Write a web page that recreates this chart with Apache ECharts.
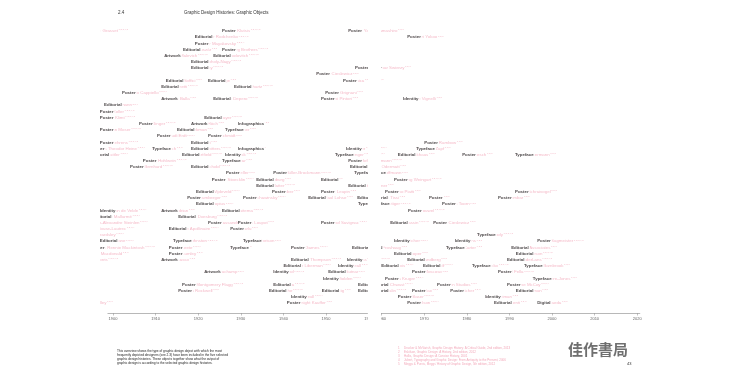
<!DOCTYPE html>
<html><head><meta charset="utf-8">
<script src="https://cdn.jsdelivr.net/npm/echarts@6/dist/echarts.min.js"></script>
<style>
html,body{margin:0;padding:0;background:#fff;width:750px;height:375px;overflow:hidden}
.clip{position:absolute;top:0;height:375px;overflow:hidden}
.chart{position:absolute;top:0;width:750px;height:375px}
</style></head><body>
<div class="clip" style="left:100px;width:268px"><div id="cL" class="chart" style="left:-100px"></div></div>
<div class="clip" style="left:381px;width:369px"><div id="cR" class="chart" style="left:-368px"></div></div>
<script>
// ---- data (one entry per graphic object) ----
const types = [
'Poster','Poster','Poster',
'Editorial','Poster',
'Poster',
'Editorial','Poster',
'Artwork','Editorial',
'Editorial',
'Editorial','Poster',
'Poster',
'Editorial','Editorial','Poster',
'Editorial','Editorial',
'Poster','Poster',
'Artwork','Editorial','Poster','Identity',
'Editorial',
'Poster',
'Poster','Editorial',
'Poster','Artwork','Infographics',
'Poster','Editorial','Typeface',
'Poster','Poster',
'Poster','Editorial','Poster',
'Poster','Typeface','Editorial','Infographics','Identity','Typeface',
'Editorial','Editorial','Identity','Typeface','Editorial','Poster','Typeface',
'Poster','Typeface','Poster',
'Poster','Editorial','Editorial',
'Poster','Poster','Typeface',
'Poster','Editorial','Editorial','Poster',
'Editorial','Editorial',
'Editorial','Poster','Poster','Poster','Poster',
'Poster','Poster','Editorial','Editorial','Poster','Poster',
'Editorial','Typeface','Poster',
'Identity','Artwork','Editorial','Poster',
'Editorial','Editorial',
'Poster','Poster','Poster','Poster','Editorial','Poster',
'Poster','Editorial','Poster',
'Poster','Typeface',
'Editorial','Typeface','Typeface','Identity','Identity','Poster',
'Poster','Poster','Typeface','Poster','Editorial','Typeface','Editorial',
'Poster','Poster','Editorial','Editorial',
'Editorial','Artwork','Editorial','Identity','Editorial','Editorial',
'Editorial','Identity','Editorial','Editorial','Typeface','Typeface',
'Artwork','Identity','Editorial','Poster','Poster',
'Identity','Poster','Typeface',
'Poster','Editorial','Editorial','Poster','Poster',
'Poster','Editorial','Editorial','Editorial','Poster','Poster','Editorial',
'Identity','Poster','Identity',
'Poster','Poster','Poster','Editorial','Digital'
];
const names = [
'Eugène Grasset','Gustav Klutsis','Ryuichi Yamashiro',
'Alexander Rodchenko','Tadanori Yokoo',
'Vladimir Mayakovsky',
'Vilmos Huszár','Stenberg Brothers',
'Kazimir Malevich','Alexey Brodovitch',
'László Moholy-Nagy',
'El Lissitzky','Waldemar Swierzy',
'Roman Cieslewicz',
'Ardengo Soffici','Karel Teige','Jan Lenica',
'F. T. Marinetti','Max Burchartz',
'Leonetto Cappiello','Franco Grignani',
'Giacomo Balla','Fortunato Depero','Giovanni Pintori','Massimo Vignelli',
'Otto Eckmann',
'Alfred Roller',
'Gustav Klimt','Herbert Bayer',
'Julius Klinger','Hannah Höch','Otto Neurath',
'Koloman Moser','H. N. Werkman','Paul Renner',
'Hans Rudi Erdt','Joost Schmidt',
'Peter Behrens','Piet Zwart','Gunter Rambow',
'Thomas Theodor Heine','Rudolf Koch','Kurt Schwitters','Harry Beck','Otl Aicher','Hermann Zapf',
'Joseph Sattler','John Heartfield','Frank Pick','Max Miedinger','Willy Fleckhaus','Uwe Loesch','Erik Spiekermann',
'Ludwig Hohlwein','Jakob Erbar','Armin Hofmann',
'Lucian Bernhard','Jan Tschichold','Siegfried Odermatt',
'Ernst Keller','Josef Müller-Brockmann','Eduard Hoffmann',
'Niklaus Stoecklin','Hans Neuburg','Max Bill','Wolfgang Weingart',
'Herbert Matter','Karl Gerstner',
'Hendrik Wijdeveld','Max Huber','Herbert Leupin','Celestino Piatti','Ralph Schraivogel',
'Otto Baumberger','Xanti Schawinsky','Richard Paul Lohse','Rosmarie Tissi','Grapus','Gert Dumbar',
'Walter Gropius','Adrian Frutiger','Jan van Toorn',
'Henry van de Velde','Piet Mondrian','Paul Schuitema','Wim Crouwel',
'Stéphane Mallarmé','Theo van Doesburg',
'Théophile-Alexandre Steinlen','A. M. Cassandre','Charles Loupot','Raymond Savignac','Robert Massin','Roman Cieslewicz',
'Henri de Toulouse-Lautrec','Guillaume Apollinaire','Jean Carlu',
'Aubrey Beardsley','Neville Brody',
'Walter Crane','Edward Johnston','Stanley Morison','Alan Fletcher','Wolff Olins','Stefan Sagmeister',
'Charles Rennie Mackintosh','Alfred Leete','Eric Gill','Abram Games','Anthony Froshaug','Matthew Carter','Why Not Associates',
'Margaret Macdonald','Savile Lumley','Muriel Cooper','David Carson',
'William Morris','Pablo Picasso','Bradbury Thompson','Saul Bass','Willem Sandberg','Rudy VanderLans',
'Alexander Liberman','Lester Beall','George Lois','Henry Wolf','Zuzana Licko','Jonathan Barnbrook',
'Marcel Duchamp','Paul Rand','Ladislav Sutnar','Victor Moscoso','Edward Fella',
'William Golden','Barbara Kruger','Tobias Frere-Jones',
'James Montgomery Flagg','M. F. Agha','Seymour Chwast','Push Pin Studios','Katherine McCoy',
'Norman Rockwell','Erik Nitsche','Alvin Lustig','Herb Lubalin','Peter Max','Paula Scher','Tibor Kalman',
'Lester Beall','Milton Glaser','April Greiman',
'Will Bradley','E. McKnight Kauffer','Wes Wilson','Rick Valicenti','John Maeda'
];
const refs = [
'1,2,3,4,5','1,2,3,4,5','1,2,3',
'1,2,3,4,5','1,2,3',
'1,2,3,4',
'1,2,3','1,2,3,4,5',
'1,2,3,4,5','1,2,3,4,5',
'1,2,3,4,5',
'1,2,3,4,5','1,2,3',
'1,2,3',
'1,2,3','1,2,3','1,2,3',
'1,2,3,4,5','1,2,3,4,5',
'1,2,3,4','1,2,3',
'1,2,3','1,2,3,4,5','1,2,3','1,2,3',
'2,3,4',
'1,2,3,4,5',
'1,2,3,4,5','1,2,3,4,5',
'1,2,3,4,5','1,2,3','1,2,3',
'1,2,3,4,5','1,2,3','1,2,3',
'1,2,3,4','1,2,3',
'1,2,3,4,5','1,2,3','1,2,3',
'1,2,3,4','1,2,3','1,2,3,4,5','1,2,3','1,2,3,4','1,2,3',
'1,2,3,4','1,2,3,4,5','1,2,3,4,5','1,2,3,4','1,2,3','1,2,3','1,2,3',
'1,2,3,4,5','1,2,3','1,2,3,4,5',
'1,2,3,4,5','1,2,3,4,5','1,2,3',
'1,2,3','1,2,3,4,5','1,2,3',
'1,2,3,4','1,2,3','1,2,3','1,2,3,4,5',
'1,2,3,4,5','1,2,3',
'1,2,3,4','1,2,3','1,2,3','1,2,3','1,2,3',
'1,2,3','1,2,3,4','1,2,3','1,2,3','1,2,3','1,2,3',
'1,2,3,4','1,2,3,4,5','1,2,3',
'1,2,3,4','1,2,3','1,2,3,4,5','1,2,3,4,5',
'1,2,3,4','1,2,3,4,5',
'1,2,3,4','1,2','1,2,3','1,2,3,4','1,2,3,4,5','1,2,3',
'1,2,3,4','1,2,3,4','1,2,3',
'1,2,3,4','1,2,3,4,5',
'1,2,3,4','1,2,3,4,5','1,2,3','1,2,3,4','1,2,3','1,2,3,4,5',
'1,2,3,4,5','1,2,3,4','1,2,3','1,2,3,4','1,2,3','1,2,3','1,2,3',
'1,2,3','1,2,3','1,2,3','1,2,3,4,5',
'1,2,3,4,5','1,2,3','1,2,3,4,5','1,2,3,4,5','1,2,3','1,2,3,4,5',
'1,2,3,4','1,2,3','1,2,3,4','1,2,3,4','1,2,3,4,5','1,2,3',
'1,2,3','1,2,3,4,5','1,2,3','1,2,3','1,2,3,4,5',
'1,2,3,4','1,2,3,4','1,2,3',
'1,2,3,4,5','1,2,3,4,5','1,2,3,4','1,2,3','1,2,3,4',
'1,2,3','1,2,3,4,5','1,2,3','1,2,3,4,5','1,2,3','1,2,3','1,2,3',
'1,2,3,4','1,2,3,4,5','1,2,3',
'1,2,3','1,2,3','1,2,3,4','1,2,3','1,2,3'
];
const years = [
1893.7,1925.6,1955.2,
1919.2,1966.0,
1919.2,
1916.4,1925.6,
1912.0,1923.5,
1918.3,
1918.3,1956.8,
1947.7,
1912.4,1922.3,1954.0,
1911.3,1928.4,
1902.1,1949.8,
1911.3,1923.5,1948.8,1965.0,
1897.9,
1896.9,
1896.9,1921.4,
1906.1,1918.3,1929.3,
1896.9,1915.0,1926.3,
1910.3,1922.3,
1896.9,1918.3,1970.0,
1894.8,1909.2,1918.3,1929.3,1954.7,1968.1,
1895.0,1916.2,1926.3,1952.1,1963.8,1978.9,1991.3,
1907.0,1925.6,1955.2,
1904.0,1918.3,1955.6,
1926.5,1937.6,1956.6,
1923.2,1933.6,1948.8,1962.9,
1933.6,1955.2,
1919.5,1937.3,1948.8,1960.8,1991.3,
1917.4,1930.5,1945.8,1957.3,1971.1,1987.3,
1919.5,1957.5,1974.2,
1896.9,1911.3,1925.6,1966.2,
1895.5,1915.3,
1892.7,1922.3,1929.3,1948.8,1962.0,1972.1,
1891.0,1913.1,1927.5,
1892.5,1982.4,
1896.9,1914.1,1930.5,1962.9,1977.2,1996.5,
1894.8,1913.1,1927.5,1941.8,1956.1,1975.1,1990.4,
1892.7,1913.1,1962.9,1991.5,
1892.3,1911.3,1941.8,1954.9,1966.0,1989.4,
1940.0,1952.8,1959.9,1969.7,1981.2,1993.4,
1921.4,1937.6,1950.5,1967.1,1987.3,
1949.3,1960.8,1995.5,
1916.2,1937.6,1957.5,1973.0,1989.4,
1915.3,1936.6,1949.0,1957.5,1967.1,1976.1,1991.5,
1941.8,1963.8,1984.3,
1893.0,1940.8,1966.0,1986.4,1996.5
];
const rows = [
0,0,0,
1,1,
2,
3,3,
4,4,
5,
6,6,
7,
8,8,8,
9,9,
10,10,
11,11,11,11,
12,
13,
14,14,
15,15,15,
16,16,16,
17,17,
18,18,18,
19,19,19,19,19,19,
20,20,20,20,20,20,20,
21,21,21,
22,22,22,
23,23,23,
24,24,24,24,
25,25,
26,26,26,26,26,
27,27,27,27,27,27,
28,28,28,
29,29,29,29,
30,30,
31,31,31,31,31,31,
32,32,32,
33,33,
34,34,34,34,34,34,
35,35,35,35,35,35,35,
36,36,36,36,
37,37,37,37,37,37,
38,38,38,38,38,38,
39,39,39,39,39,
40,40,40,
41,41,41,41,41,
42,42,42,42,42,42,42,
43,43,43,
44,44,44,44,44
];
const tickYears = [1900,1910,1920,1930,1940,1950,1960,1970,1980,1990,2000,2010,2020];
const sources = [
'Drucker & McVarish, Graphic Design History: A Critical Guide, 2nd edition, 2013',
'Eskilson, Graphic Design: A History, 2nd edition, 2012',
'Hollis, Graphic Design: A Concise History, 2001',
'Jubert, Typography and Graphic Design: From Antiquity to the Present, 2006',
'Meggs & Purvis, Meggs\' History of Graphic Design, 5th edition, 2012'
];
const intro = [
'This overview shows the type of graphic design object with which the most',
'frequently depicted designers (see 2.3) have been included in the five selected',
'graphic design histories. These objects together show what the output of',
'graphic design is according to the selected graphic design histories.'
];

// ---- chart ----
const PINK = '#f2a9ba';
const FONT = '"Liberation Sans", Arial, sans-serif';
const pts = years.map((y, i) => [y, rows[i]]);
const GAP = 13; // page gutter: right-page texts are placed in chart coordinates (page x - GAP)

const graphics = [
  {type:'text', left:118, top:10, style:{text:'2.4', font:'4.5px ' + FONT, fill:'#333'}},
  {type:'text', left:184, top:10, style:{text:'Graphic Design Histories: Graphic Objects', font:'4.5px ' + FONT, fill:'#333'}},
  {type:'text', left:117, top:349.5, style:{text:intro.join('\n'), font:'3.2px ' + FONT, lineHeight:3.9, fill:'#222'}},
  {type:'text', left:568 - GAP, top:342, style:{text:'佳作書局', font:'bold 15px "Noto Sans CJK TC"', fill:'#6f6f6f'}},
  {type:'text', left:627 - GAP, top:362, style:{text:'43', font:'4px ' + FONT, fill:'#333'}}
];
sources.forEach((s, i) => {
  graphics.push({type:'text', left:398 - GAP, top:346.5 + i * 4, style:{text:String(i + 1), font:'3px ' + FONT, fill:PINK}});
  graphics.push({type:'text', left:404 - GAP, top:346.5 + i * 4, style:{text:s, font:'3px ' + FONT, fill:PINK}});
});

const option = {
  animation: false,
  backgroundColor: '#fff',
  grid: {left: 107.9, top: 31, width: 518.9, height: 282},
  xAxis: {
    type: 'value', min: 1898.8, max: 2020.6, position: 'bottom',
    axisLine: {onZero: false, lineStyle: {color: '#9a9a9a', width: 0.7}},
    axisTick: {show: true, length: 2.5, customValues: tickYears, lineStyle: {color: '#9a9a9a', width: 0.6}},
    axisLabel: {customValues: tickYears, fontSize: 4, color: '#666', margin: 3.5, fontFamily: FONT, formatter: v => String(v)},
    splitLine: {show: false}
  },
  yAxis: {type: 'value', min: 0, max: 45.6, inverse: true, show: false},
  series: [
    {
      type: 'scatter', data: pts, symbolSize: 0, clip: false, silent: true, z: 2,
      label: {
        show: true, position: 'right', distance: 0,
        formatter: p => '{n|' + names[p.dataIndex] + '}{s|' + refs[p.dataIndex] + '}',
        rich: {
          n: {fontSize: 4.4, color: PINK, fontFamily: FONT},
          s: {fontSize: 2.5, color: PINK, fontFamily: FONT, padding: [0, 0, 2.6, 0.6]}
        }
      }
    },
    {
      type: 'scatter', data: pts, symbolSize: 0, clip: false, silent: true, z: 3,
      label: {
        show: true, position: 'right', distance: 0,
        formatter: p => types[p.dataIndex],
        fontSize: 4.4, color: '#1a1a1a', fontFamily: FONT, fontWeight: 'bold',
        backgroundColor: '#fff', padding: [0.4, 1.2, 0.4, 0]
      }
    }
  ],
  graphic: graphics
};
['cL', 'cR'].forEach(id => {
  const c = echarts.init(document.getElementById(id), null, {renderer: 'canvas'});
  c.setOption(option);
});
</script>
</body></html>
